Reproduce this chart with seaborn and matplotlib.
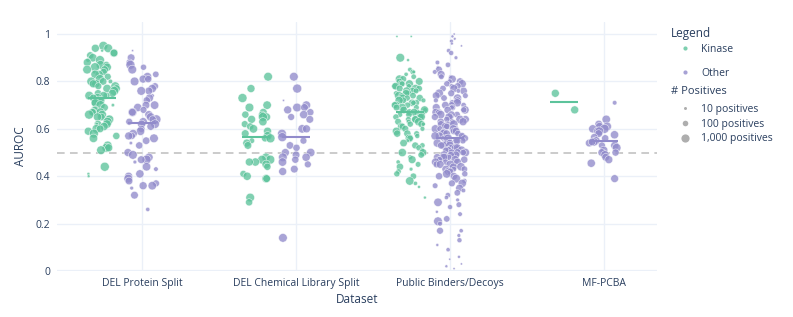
import numpy as np
import pandas as pd
import seaborn as sns
import matplotlib.pyplot as plt
from matplotlib.lines import Line2D

datasets = ['DEL Protein Split', 'DEL Chemical Library Split',
            'Public Binders/Decoys', 'MF-PCBA']
groups = ['Kinase', 'Other']

prot_kin_auroc = [0.95, 0.94, 0.94, 0.93, 0.92, 0.92, 0.91, 0.90, 0.89, 0.89,
                  0.88, 0.87, 0.87, 0.86, 0.86, 0.85, 0.85, 0.84, 0.84, 0.83,
                  0.83, 0.82, 0.81, 0.80, 0.80, 0.80, 0.79, 0.79, 0.78, 0.78,
                  0.77, 0.77, 0.76, 0.75, 0.75, 0.74, 0.74, 0.74, 0.73, 0.73,
                  0.72, 0.72, 0.71, 0.71, 0.70, 0.70, 0.69, 0.68, 0.68, 0.67,
                  0.67, 0.67, 0.66, 0.66, 0.65, 0.65, 0.64, 0.64, 0.63, 0.63,
                  0.62, 0.62, 0.62, 0.61, 0.60, 0.60, 0.59, 0.58, 0.57, 0.56,
                  0.53, 0.52, 0.52, 0.51, 0.44, 0.41, 0.40]
prot_kin_pos = [2000, 1500, 800, 10, 1000, 600, 400, 1200, 30, 2000,
                800, 1500, 300, 2000, 1000, 600, 1500, 400, 20, 800,
                1200, 300, 2000, 1500, 500, 40, 1000, 800, 300, 1500,
                600, 1200, 2000, 800, 400, 1500, 300, 1000, 2000, 600,
                1500, 800, 400, 1200, 2000, 15, 600, 1000, 300, 1500,
                800, 400, 1200, 2000, 600, 1000, 300, 1500, 800, 2000,
                500, 1200, 20, 1000, 1500, 600, 800, 2000, 400, 1200,
                1500, 2000, 800, 1500, 2000, 10, 10]

prot_oth_auroc = [0.93, 0.90, 0.88, 0.87, 0.86, 0.85, 0.83, 0.82, 0.81, 0.81,
                  0.80, 0.78, 0.77, 0.76, 0.76, 0.74, 0.73, 0.72, 0.70, 0.70,
                  0.69, 0.68, 0.67, 0.67, 0.66, 0.65, 0.64, 0.64, 0.63, 0.63,
                  0.62, 0.62, 0.61, 0.60, 0.59, 0.58, 0.57, 0.57, 0.56, 0.55,
                  0.54, 0.53, 0.50, 0.49, 0.48, 0.47, 0.47, 0.46, 0.44, 0.43,
                  0.41, 0.40, 0.39, 0.38, 0.37, 0.36, 0.36, 0.35, 0.32, 0.26]
prot_oth_pos = [5, 600, 300, 2000, 150, 1500, 200, 1200, 800, 400,
                1500, 300, 1000, 600, 1500, 20, 800, 400, 1200, 600,
                1000, 300, 1500, 600, 800, 1200, 2000, 400, 1000, 300,
                800, 1500, 600, 400, 1200, 1000, 300, 800, 1500, 500,
                15, 400, 800, 1500, 1000, 2000, 600, 20, 1200, 40,
                1000, 800, 1500, 600, 300, 800, 1200, 20, 600, 30]

chem_kin_auroc = [0.82, 0.77, 0.73, 0.70, 0.69, 0.67, 0.66, 0.66, 0.65, 0.65,
                  0.64, 0.63, 0.62, 0.61, 0.60, 0.59, 0.58, 0.57, 0.56, 0.56,
                  0.55, 0.54, 0.53, 0.48, 0.47, 0.47, 0.46, 0.46, 0.45, 0.44,
                  0.41, 0.40, 0.39, 0.39, 0.31, 0.29]
chem_kin_pos = [1500, 800, 2000, 1200, 1500, 600, 400, 300, 1000, 2000,
                800, 1000, 300, 400, 1200, 800, 600, 1500, 400, 2000,
                100, 800, 600, 1200, 2000, 1500, 1000, 800, 1200, 400,
                300, 1000, 1200, 600, 1500, 400]

chem_oth_auroc = [0.82, 0.77, 0.72, 0.70, 0.69, 0.69, 0.68, 0.67, 0.66, 0.65,
                  0.64, 0.60, 0.60, 0.58, 0.565, 0.55, 0.53, 0.52, 0.50, 0.50,
                  0.49, 0.48, 0.48, 0.47, 0.46, 0.45, 0.43, 0.42, 0.14]
chem_oth_pos = [1500, 2000, 5, 1200, 1500, 600, 800, 400, 1000, 300,
                600, 1200, 800, 1500, 2000, 300, 500, 400, 800, 1200,
                600, 1000, 1500, 400, 1200, 300, 600, 800, 1500]

pub_kin_auroc = [0.99, 0.99, 0.90, 0.89, 0.85, 0.84, 0.84, 0.83, 0.82, 0.81,
                 0.81, 0.80, 0.80, 0.79, 0.79, 0.79, 0.78, 0.78, 0.78, 0.77,
                 0.77, 0.77, 0.76, 0.76, 0.76, 0.75, 0.75, 0.75, 0.74, 0.74,
                 0.74, 0.73, 0.73, 0.73, 0.72, 0.72, 0.72, 0.71, 0.71, 0.71,
                 0.70, 0.70, 0.70, 0.69, 0.69, 0.69, 0.68, 0.68, 0.68, 0.67,
                 0.67, 0.67, 0.66, 0.66, 0.66, 0.65, 0.65, 0.65, 0.64, 0.64,
                 0.64, 0.63, 0.63, 0.63, 0.62, 0.62, 0.62, 0.61, 0.61, 0.60,
                 0.60, 0.59, 0.58, 0.58, 0.57, 0.56, 0.56, 0.55, 0.54, 0.53,
                 0.53, 0.52, 0.51, 0.50, 0.50, 0.49, 0.48, 0.47, 0.46, 0.45,
                 0.44, 0.43, 0.42, 0.41, 0.40, 0.38, 0.37, 0.355, 0.31, 0.58]
pub_kin_pos = [5, 5, 1500, 10, 40, 60, 20, 30, 80, 1000,
               300, 600, 200, 400, 100, 800, 150, 500, 60, 300,
               1000, 200, 400, 120, 800, 60, 300, 500, 200, 1200,
               100, 400, 700, 150, 50, 300, 900, 200, 400, 80,
               600, 150, 300, 1000, 100, 250, 500, 40, 800, 300,
               150, 600, 200, 1200, 80, 400, 150, 700, 300, 100,
               500, 60, 900, 250, 150, 400, 30, 600, 200, 50,
               300, 800, 100, 400, 60, 1000, 200, 20, 500, 80,
               300, 150, 40, 1000, 600, 200, 50, 700, 30, 100,
               400, 20, 80, 150, 200, 1200, 30, 10, 10, 400]

pub_oth_auroc = [1.00, 0.99, 0.98, 0.97, 0.96, 0.95, 0.93, 0.92, 0.90, 0.88,
                 0.87, 0.86, 0.85, 0.84, 0.83, 0.82, 0.82, 0.81, 0.80, 0.80,
                 0.79, 0.79, 0.78, 0.78, 0.77, 0.77, 0.76, 0.76, 0.75, 0.75,
                 0.74, 0.74, 0.73, 0.73, 0.72, 0.72, 0.71, 0.71, 0.70, 0.70,
                 0.70, 0.69, 0.69, 0.69, 0.68, 0.68, 0.68, 0.67, 0.67, 0.67,
                 0.66, 0.66, 0.66, 0.65, 0.65, 0.65, 0.64, 0.64, 0.64, 0.63,
                 0.63, 0.63, 0.62, 0.62, 0.62, 0.61, 0.61, 0.61, 0.60, 0.60,
                 0.60, 0.60, 0.59, 0.59, 0.59, 0.58, 0.58, 0.58, 0.57, 0.57,
                 0.57, 0.57, 0.56, 0.56, 0.56, 0.56, 0.55, 0.55, 0.55, 0.55,
                 0.54, 0.54, 0.54, 0.54, 0.53, 0.53, 0.53, 0.53, 0.52, 0.52,
                 0.52, 0.52, 0.51, 0.51, 0.51, 0.51, 0.50, 0.50, 0.50, 0.50,
                 0.49, 0.49, 0.49, 0.49, 0.48, 0.48, 0.48, 0.48, 0.47, 0.47,
                 0.47, 0.47, 0.46, 0.46, 0.46, 0.45, 0.45, 0.45, 0.44, 0.44,
                 0.44, 0.43, 0.43, 0.43, 0.42, 0.42, 0.41, 0.41, 0.40, 0.40,
                 0.39, 0.38, 0.37, 0.37, 0.36, 0.35, 0.34, 0.33, 0.32, 0.31,
                 0.30, 0.29, 0.28, 0.27, 0.25, 0.24, 0.22, 0.21, 0.20, 0.17,
                 0.17, 0.15, 0.13, 0.11, 0.09, 0.06, 0.05, 0.03, 0.02, 0.01]
pub_oth_pos = [5, 10, 8, 20, 10, 5, 30, 60, 20, 40,
               80, 10, 300, 40, 600, 100, 20, 800, 400, 60,
               1000, 150, 300, 60, 800, 200, 500, 40, 1200, 300,
               100, 600, 200, 900, 50, 400, 150, 1000, 300, 80,
               500, 200, 700, 60, 400, 1000, 150, 300, 800, 100,
               1200, 200, 500, 60, 900, 300, 150, 600, 1000, 100,
               400, 800, 150, 1200, 300, 60, 700, 200, 1000, 400,
               150, 900, 300, 600, 100, 1200, 200, 500, 800, 50,
               1000, 300, 150, 700, 400, 1200, 100, 600, 200, 800,
               300, 1000, 150, 500, 900, 60, 400, 1200, 200, 700,
               100, 800, 500, 300, 1000, 150, 600, 1200, 200, 400,
               900, 60, 700, 300, 1200, 150, 500, 800, 100, 1000,
               400, 200, 900, 600, 150, 1200, 300, 700, 60, 500,
               1000, 200, 600, 100, 800, 300, 1200, 150, 500, 400,
               1500, 60, 1000, 300, 100, 600, 40, 200, 80, 30,
               20, 1200, 100, 60, 10, 40, 200, 1500, 50, 30,
               300, 20, 60, 10, 30, 10, 5, 5, 10, 5]

mf_kin_auroc = [0.75, 0.68]
mf_kin_pos = [800, 800]

mf_oth_auroc = [0.71, 0.64, 0.62, 0.61, 0.61, 0.60, 0.60, 0.59, 0.59, 0.58,
                0.575, 0.565, 0.55, 0.545, 0.54, 0.53, 0.53, 0.52, 0.51, 0.50,
                0.50, 0.49, 0.48, 0.47, 0.455, 0.39, 0.545, 0.56]
mf_oth_pos = [40, 1200, 600, 800, 1500, 1000, 2000, 1200, 1500, 600,
              1000, 400, 800, 1200, 600, 300, 1000, 1500, 800, 600,
              400, 1200, 600, 800, 1000, 700, 500, 400]

parts = [
    (datasets[0], 'Kinase', prot_kin_auroc, prot_kin_pos),
    (datasets[0], 'Other', prot_oth_auroc, prot_oth_pos),
    (datasets[1], 'Kinase', chem_kin_auroc, chem_kin_pos),
    (datasets[1], 'Other', chem_oth_auroc, chem_oth_pos),
    (datasets[2], 'Kinase', pub_kin_auroc, pub_kin_pos),
    (datasets[2], 'Other', pub_oth_auroc, pub_oth_pos),
    (datasets[3], 'Kinase', mf_kin_auroc, mf_kin_pos),
    (datasets[3], 'Other', mf_oth_auroc, mf_oth_pos),
]
df = pd.concat([pd.DataFrame({'dataset': d, 'group': g, 'auroc': a, 'positives': p})
                for d, g, a, p in parts], ignore_index=True)

colors = {'Kinase': '#5cc39b', 'Other': '#918bcb'}
offsets = {'Kinase': -0.26, 'Other': 0.0}
text_c = '#2a3f5f'


def marker_area(n):
    # diameter in px grows with log10(#positives), converted to pt^2
    d = 2.6 * np.log10(np.asarray(n, dtype=float)) + 0.4
    return (d * 0.72) ** 2


sns.set_theme(style='white')
plt.rcParams['font.family'] = ['Open Sans', 'DejaVu Sans']
np.random.seed(3)

fig = plt.figure(figsize=(7.93, 3.17), dpi=100)
ax = fig.add_axes([0.072, 0.145, 0.756, 0.785])

for i, ds in enumerate(datasets):
    for g in groups:
        sub = df[(df.dataset == ds) & (df.group == g)].copy()
        sub['xpos'] = i + offsets[g]
        sns.stripplot(data=sub, x='xpos', y='auroc', native_scale=True, orient='x',
                      jitter=0.1, color=colors[g], alpha=0.78,
                      edgecolor='white', linewidth=0.4, ax=ax, zorder=3)
        ax.collections[-1].set_sizes(marker_area(sub['positives']))
        med = sub['auroc'].median()
        ax.hlines(med, i + offsets[g] - 0.09, i + offsets[g] + 0.09,
                  color=colors[g], lw=1.5, zorder=4)

ax.axhline(0.5, color='#bdbdbd', ls=(0, (5, 3.5)), lw=1.1, zorder=2)
ax.axhline(0, color='#ebf0f8', lw=1.6, zorder=1)

ax.set_xlim(-0.55, 3.34)
ax.set_ylim(0, 1.05)
ax.set_xticks(range(len(datasets)))
ax.set_xticklabels(datasets)
ax.set_yticks([0, 0.2, 0.4, 0.6, 0.8, 1.0])
ax.set_yticklabels(['0', '0.2', '0.4', '0.6', '0.8', '1'])
ax.grid(True, color='#ebf0f8', lw=1)
ax.set_axisbelow(True)
for s in ax.spines.values():
    s.set_visible(False)
ax.tick_params(length=0, labelsize=7.5, colors=text_c)
ax.tick_params(axis='x', pad=5)
ax.tick_params(axis='y', pad=5)
ax.set_xlabel('Dataset', fontsize=8.5, color=text_c, labelpad=3)
ax.set_ylabel('AUROC', fontsize=8.5, color=text_c, labelpad=6)

# legend titles as plain text, entries as two untitled legends
fig.text(671 / 793, 1 - 33 / 317, 'Legend', fontsize=8.5, color=text_c, va='center')
fig.text(671 / 793, 1 - 92 / 317, '# Positives', fontsize=8, color=text_c, va='center')

kind_handles = [Line2D([], [], ls='', marker='o', ms=3.0, mfc=colors[g], mec='none', alpha=0.8)
                for g in groups]
leg1 = ax.legend(kind_handles, groups, loc='upper left',
                 bbox_to_anchor=(671 / 793, 1 - 44 / 317), bbox_transform=fig.transFigure,
                 frameon=False, fontsize=7.5, handlelength=2.6, handletextpad=0.3,
                 labelspacing=1.2, borderpad=0, borderaxespad=0, labelcolor=text_c)
ax.add_artist(leg1)

size_levels = [10, 100, 1000]
size_handles = [Line2D([], [], ls='', marker='o', ms=float(np.sqrt(marker_area(n))),
                       mfc='#9a9a9a', mec='none', alpha=0.8) for n in size_levels]
leg2 = ax.legend(size_handles, ['10 positives', '100 positives', '1,000 positives'],
                 loc='upper left',
                 bbox_to_anchor=(671 / 793, 1 - 104 / 317), bbox_transform=fig.transFigure,
                 frameon=False, fontsize=7.5, handlelength=2.6, handletextpad=0.3,
                 labelspacing=0.35, borderpad=0, borderaxespad=0, labelcolor=text_c)

fig.savefig('out.png', dpi=100)
